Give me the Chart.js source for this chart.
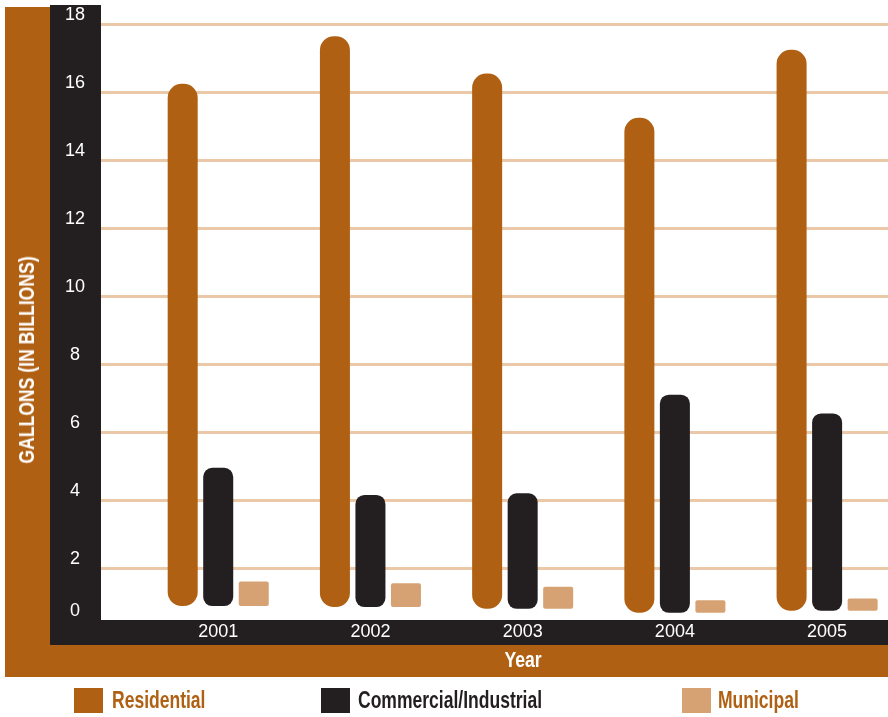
<!DOCTYPE html>
<html>
<head>
<meta charset="utf-8">
<script src="https://cdn.jsdelivr.net/npm/chart.js@4.4.1/dist/chart.umd.min.js"></script>
<style>
  html, body { margin: 0; padding: 0; background: #fff; }
  #wrap { position: relative; width: 888px; height: 717px; overflow: hidden;
          font-family: 'Liberation Sans', Arial, sans-serif; }
  .box { position: absolute; }
  #outer { left: 5px; top: 7px; width: 883px; height: 670px; background: #b06012; }
  #inner { left: 50px; top: 5px; width: 838px; height: 640px; background: #231f20; }
  #plot  { left: 101px; top: 0; width: 787px; height: 620px; background: #fff; }
  #chart { position: absolute; left: 0; top: 0; }
  #ytitle { position: absolute; left: 27px; top: 360px;
            transform: translate(-50%, -50%) rotate(-90deg) scaleX(0.8);
            color: #fff; font-weight: bold; font-size: 22px; white-space: nowrap; }
  #xtitle { position: absolute; left: 523px; top: 660px; transform: translate(-50%, -50%) scaleX(0.8);
            color: #fff; font-weight: bold; font-size: 22px; }
  .sw { position: absolute; top: 688px; width: 29px; height: 25px; }
  .lab { position: absolute; top: 700px; transform: translateY(-50%) scaleX(0.73); transform-origin: 0 50%;
         font-size: 24px; font-weight: bold; white-space: nowrap; }
</style>
</head>
<body>
<div id="wrap">
  <div class="box" id="outer"></div>
  <div class="box" id="inner"></div>
  <div class="box" id="plot"></div>
  <canvas id="chart" width="888" height="717"></canvas>
  <div id="ytitle">GALLONS (IN BILLIONS)</div>
  <div id="xtitle">Year</div>
  <div class="sw" style="left:74px;background:#b06012"></div>
  <div class="lab" style="left:112px;color:#b06012">Residential</div>
  <div class="sw" style="left:321px;background:#231f20"></div>
  <div class="lab" style="left:358px;color:#231f20">Commercial/Industrial</div>
  <div class="sw" style="left:682px;background:#d6a273"></div>
  <div class="lab" style="left:718px;color:#b06012">Municipal</div>
</div>
<script>
// Water use by sector, billions of gallons
const years = [2001, 2002, 2003, 2004, 2005];
const residential = [16.25, 17.65, 16.55, 15.25, 17.25];
const commercial = [4.95, 4.15, 4.2, 7.1, 6.55];
const municipal = [1.6, 1.55, 1.45, 1.05, 1.1];
// the bars float a little above the axis band; this is where each one starts
const barBase = [0.88, 0.85, 0.8, 0.68, 0.74];
const yTicks = [0, 2, 4, 6, 8, 10, 12, 14, 16, 18];

const yMin = 0.47, yMax = 18.54;
const grid = '#eac8a8';
const font = "'Liberation Sans', Arial, sans-serif";

function series(label, vals, color, radius) {
  return {
    label,
    data: years.map((yr, i) => ({ x: yr, y: [barBase[i], vals[i]] })),
    backgroundColor: color,
    borderWidth: 0,
    borderSkipped: false,
    borderRadius: radius,
    categoryPercentage: 0.70,
    barPercentage: 0.845,
  };
}

new Chart(document.getElementById('chart'), {
  type: 'bar',
  data: {
    datasets: [
      series('Residential', residential, '#b06012', 14),
      series('Commercial/Industrial', commercial, '#231f20', 9),
      series('Municipal', municipal, '#d6a273', 2),
    ],
  },
  options: {
    responsive: false,
    animation: false,
    events: [],
    layout: { padding: { left: 50, top: 6, right: 0, bottom: 73 } },
    plugins: { legend: { display: false }, tooltip: { enabled: false } },
    scales: {
      x: {
        type: 'linear',
        offset: false,
        min: 2000.23,
        max: 2005.40,
        afterBuildTicks: (s) => { s.ticks = years.map((v) => ({ value: v })); },
        afterFit: (s) => { s.height = 24; s.paddingLeft = 0; s.paddingRight = 0; },
        grid: { display: false, drawTicks: false },
        border: { display: false },
        ticks: { color: '#fff', padding: 1, font: { family: font, size: 18 }, callback: (v) => String(v) },
      },
      y: {
        min: yMin,
        max: yMax,
        afterBuildTicks: (s) => { s.ticks = yTicks.map((v) => ({ value: Math.max(v, yMin) })); },
        afterFit: (s) => { s.width = 51; s.paddingTop = 0; s.paddingBottom = 0; },
        grid: {
          drawTicks: false,
          lineWidth: 3,
          color: (c) => (c.tick && c.tick.value === yMin ? 'rgba(0,0,0,0)' : grid),
        },
        border: { display: false },
        ticks: {
          color: '#fff',
          padding: 16,
          crossAlign: 'center',
          labelOffset: -9,
          font: { family: font, size: 18 },
          callback: (v, i) => String(yTicks[i]),
        },
      },
    },
  },
});
</script>
</body>
</html>
